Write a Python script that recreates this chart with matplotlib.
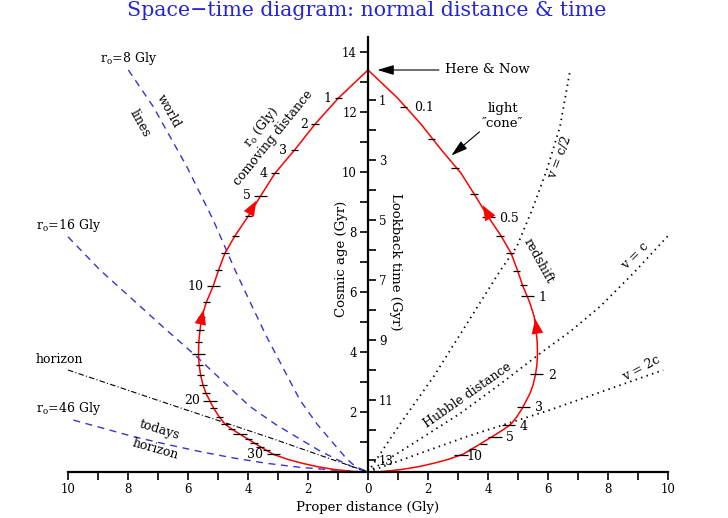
import matplotlib
matplotlib.use('Agg')
import matplotlib.pyplot as plt

plt.rcParams['font.family'] = ['DejaVu Serif']
plt.rcParams['mathtext.fontset'] = 'dejavuserif'

NOW = 13.4  # age of the universe at "here & now" (Gyr)

# past light cone: proper distance (Gly) vs cosmic age (Gyr), same on both sides
cone_dist = [0, 0.99, 1.77, 2.45, 3.1, 3.58, 3.99, 4.43, 4.77, 4.98, 5.16, 5.38,
             5.54, 5.6, 5.64, 5.65, 5.63, 5.58, 5.5, 5.4, 5.27, 5.14, 4.96, 4.77,
             4.54, 4.27, 3.99, 3.6, 3.16, 2.7, 2.27, 1.7, 1.16, 0.8, 0.45, 0]
cone_age = [13.4, 12.46, 11.59, 10.73, 9.96, 9.2, 8.53, 7.88, 7.29, 6.73, 6.2, 5.68,
            5.18, 4.73, 4.34, 3.93, 3.57, 3.23, 2.9, 2.62, 2.37, 2.12, 1.84, 1.6,
            1.43, 1.26, 1.09, 0.85, 0.59, 0.43, 0.31, 0.18, 0.09, 0.05, 0.015, 0]

# comoving distance marks (left branch)
como_vals = list(range(1, 31))
como_dist = [0.99, 1.77, 2.45, 3.1, 3.58, 3.99, 4.43, 4.77, 4.98, 5.16, 5.38, 5.54,
             5.6, 5.64, 5.65, 5.63, 5.58, 5.5, 5.4, 5.27, 5.14, 4.96, 4.77, 4.54,
             4.27, 3.99, 3.8, 3.6, 3.38, 3.16]
como_age = [12.46, 11.59, 10.73, 9.96, 9.2, 8.53, 7.88, 7.29, 6.73, 6.2, 5.68, 5.18,
            4.73, 4.34, 3.93, 3.57, 3.23, 2.9, 2.62, 2.37, 2.12, 1.84, 1.6, 1.43,
            1.26, 1.09, 0.97, 0.85, 0.72, 0.59]
como_long = [5, 10, 15, 20, 25, 30]
como_labelled = [1, 2, 3, 4, 5, 10, 20, 30]

# redshift marks (right branch)
z_vals = [0.1, 0.2, 0.3, 0.4, 0.5, 0.6, 0.7, 0.8, 0.9, 1, 2, 3, 4, 5, 6, 7, 10]
z_dist = [1.18, 2.12, 2.9, 3.53, 4.01, 4.4, 4.73, 4.96, 5.18, 5.31, 5.62, 5.18,
          4.68, 4.23, 3.84, 3.48, 3.1]
z_age = [12.18, 11.09, 10.12, 9.26, 8.51, 7.87, 7.29, 6.71, 6.23, 5.87, 3.27, 2.18,
         1.57, 1.18, 0.95, 0.77, 0.56]
z_long = [0.5, 1, 2, 3, 4, 5, 10]
z_labels = {0.1: '0.1', 0.5: '0.5', 1: '1', 2: '2', 3: '3', 4: '4', 5: '5', 10: '10'}

# world lines of comoving galaxies (left side, proper distance negative)
wl8_x = [-7.99, -7.16, -6.04, -5.16, -4.43, -3.9, -3.38, -2.9, -2.27, -1.7, -1.16,
         -0.72, -0.42, 0]
wl8_t = [13.4, 12.18, 10.18, 8.4, 6.73, 5.6, 4.51, 3.6, 2.4, 1.6, 0.96,
         0.45, 0.18, 0]
wl16_x = [-10, -8.93, -7.9, -6.85, -5.77, -4.6, -3.93, -3.1, -2.27, -1.6, -1.0,
          -0.45, 0]
wl16_t = [7.84, 6.73, 5.8, 4.85, 3.9, 2.8, 2.18, 1.6, 1.1, 0.7, 0.4, 0.14, 0]
wl46_x = [-9.82, -8.8, -7.82, -6.7, -5.6, -4.5, -3.38, -2.3, -1.2, -0.5, 0]
wl46_t = [1.73, 1.45, 1.18, 0.92, 0.68, 0.47, 0.29, 0.16, 0.07, 0.02, 0]

# particle horizon
hor_x = [-10, -6.71, -3.38, 0]
hor_t = [3.4, 2.29, 1.18, 0]

# recession speed lines (right side)
vc2_x = [0, 1.07, 2.2, 4.4, 4.96, 5.51, 5.96, 6.4, 6.73]
vc2_t = [0, 1.6, 3.2, 6.7, 7.51, 8.84, 10.07, 11.51, 13.35]
vc_x = [0, 1.5, 3.07, 4.5, 5.8, 6.7, 7.73, 8.84, 10]
vc_t = [0, 0.95, 1.95, 3.0, 4.0, 4.65, 5.51, 6.62, 7.87]
v2c_x = [0, 3.29, 6.07, 9.84]
v2c_t = [0, 1.18, 2.07, 3.4]

# red arrowheads on the light cone: (tail, tip)
cone_arrows = [((-3.86, 8.8), (-3.68, 9.12)), ((-5.56, 5.05), (-5.46, 5.5)),
               ((3.98, 8.62), (3.78, 8.97)), ((5.62, 4.8), (5.56, 5.2))]

fig = plt.figure(figsize=(7.28, 5.18), dpi=100)
ax = fig.add_axes([0, 0, 1, 1])
ax.set_xlim(-12.267, 12.0)
ax.set_ylim(-1.533, 15.733)

blue = '#3434d6'
ax.plot(wl8_x, wl8_t, color=blue, lw=1, ls=(0, (5, 4)))
ax.plot(wl16_x, wl16_t, color=blue, lw=1, ls=(0, (5, 4)))
ax.plot(wl46_x, wl46_t, color=blue, lw=1, ls=(0, (5, 4)))
ax.plot(hor_x, hor_t, color='black', lw=0.8, ls=(0, (5, 2, 1, 2)))
for xs, ts in [(vc2_x, vc2_t), (vc_x, vc_t), (v2c_x, v2c_t)]:
    ax.plot(xs, ts, color='black', lw=1.3, ls=(0, (0.8, 2.4)))

ax.plot([-d for d in cone_dist], cone_age, color='red', lw=1.1)
ax.plot(cone_dist, cone_age, color='red', lw=1.1)
for tail, tip in cone_arrows:
    ax.annotate('', xy=tip, xytext=tail,
                arrowprops=dict(arrowstyle='-|>,head_length=0.9,head_width=0.35',
                                color='red', lw=0, mutation_scale=12))

# marks along the cone
for v, d, t in zip(como_vals, como_dist, como_age):
    half = 0.22 if v in como_long else 0.12
    ax.hlines(t, -d - half, -d + half, color='black', lw=0.9)
    if v in como_labelled:
        ax.annotate(str(v), (-d, t), xytext=(-(half * 21.6 + 2.5), 0),
                    textcoords='offset points', ha='right', va='center', fontsize=9)
for v, d, t in zip(z_vals, z_dist, z_age):
    half = 0.22 if v in z_long else 0.12
    ax.hlines(t, d - half, d + half, color='black', lw=0.9)
    if v in z_labels:
        off = 4 if v == 10 else 8
        ax.annotate(z_labels[v], (d, t), xytext=(off, -1), textcoords='offset points',
                    ha='left', va='center', fontsize=9)

# axes as spines through the origin
for s in ['top', 'right']:
    ax.spines[s].set_visible(False)
ax.spines['left'].set_position(('data', 0))
ax.spines['bottom'].set_position(('data', 0))
ax.spines['left'].set_bounds(0, 14.5)
ax.spines['bottom'].set_bounds(-10, 10)
ax.spines['left'].set_linewidth(1.6)
ax.spines['bottom'].set_linewidth(1.6)

xt = list(range(-10, 11, 2))
ax.set_xticks(xt)
ax.set_xticklabels([str(abs(v)) for v in xt], fontsize=8.5)
ax.set_xticks(list(range(-9, 10, 2)), minor=True)
ax.set_yticks(list(range(2, 15, 2)))
ax.set_yticklabels([str(v) for v in range(2, 15, 2)], fontsize=8.5)
ax.set_yticks(list(range(1, 14, 2)), minor=True)
ax.tick_params(which='both', direction='out', length=6, width=1.2, pad=2)

ax2 = ax.twinx()
ax2.set_ylim(NOW + 1.533, NOW - 15.733)
for s in ax2.spines.values():
    s.set_visible(False)
ax2.spines['right'].set_position(('data', 0))
ax2.set_yticks(list(range(1, 14, 2)))
ax2.set_yticklabels([str(v) for v in range(1, 14, 2)], fontsize=8.5)
ax2.set_yticks(list(range(2, 13, 2)), minor=True)
ax2.tick_params(which='both', direction='out', length=6, width=1.2, pad=2)

# axis titles
ax.text(0, -1.17, 'Proper distance (Gly)', ha='center', va='center', fontsize=9.5)
ax.text(-0.9, 7.1, 'Cosmic age (Gyr)', rotation=90, ha='center', va='center', fontsize=9.5)
ax.text(0.9, 7.0, 'Lookback time (Gyr)', rotation=-90, ha='center', va='center', fontsize=9.5)

fig.text(0.504, 1 - 11 / 518, 'Space\u2212time diagram: normal distance & time',
         ha='center', va='center', fontsize=14.8, color='#2424d8')

# annotations
ax.annotate('Here & Now', xy=(0.22, 13.4), xytext=(2.55, 13.4), ha='left', va='center',
            fontsize=9.5,
            arrowprops=dict(arrowstyle='-|>,head_length=1.0,head_width=0.3',
                            color='black', lw=0.8, mutation_scale=10))
ax.text(4.49, 12.13, 'light', ha='center', va='center', fontsize=9.5)
ax.text(4.49, 11.63, '\u2033cone\u2033', ha='center', va='center', fontsize=9.5)
ax.annotate('', xy=(2.71, 10.49), xytext=(3.79, 11.4),
            arrowprops=dict(arrowstyle='-|>,head_length=1.0,head_width=0.3',
                            color='black', lw=0.8, mutation_scale=10))

ax.text(-7.99, 13.79, r'r$_\mathrm{o}$=8 Gly', ha='center', va='center', fontsize=9)
ax.text(-9.99, 8.2, r'r$_\mathrm{o}$=16 Gly', ha='center', va='center', fontsize=9)
ax.text(-9.99, 2.12, r'r$_\mathrm{o}$=46 Gly', ha='center', va='center', fontsize=9)
ax.text(-10.29, 3.76, 'horizon', ha='center', va='center', fontsize=9)
ax.text(-6.66, 12.01, 'world', rotation=-61, ha='center', va='center',
        rotation_mode='anchor', fontsize=9)
ax.text(-7.6, 11.62, 'lines', rotation=-61, ha='center', va='center',
        rotation_mode='anchor', fontsize=9)
ax.text(-3.54, 11.51, r'r$_\mathrm{o}$ (Gly)', rotation=51, ha='center', va='center',
        rotation_mode='anchor', fontsize=9)
ax.text(-3.16, 11.12, 'comoving distance', rotation=51, ha='center', va='center',
        rotation_mode='anchor', fontsize=9)
ax.text(-6.96, 1.42, 'todays', rotation=-17, ha='center', va='center',
        rotation_mode='anchor', fontsize=9)
ax.text(-7.08, 0.77, 'horizon', rotation=-16, ha='center', va='center',
        rotation_mode='anchor', fontsize=9)
ax.text(6.4, 10.49, 'v = c/2', rotation=69, ha='center', va='center',
        rotation_mode='anchor', fontsize=9)
ax.text(5.7, 7.04, 'redshift', rotation=-61, ha='center', va='center',
        rotation_mode='anchor', fontsize=9)
ax.text(8.9, 7.2, 'v = c', rotation=45, ha='center', va='center',
        rotation_mode='anchor', fontsize=9)
ax.text(3.31, 2.57, 'Hubble distance', rotation=35, ha='center', va='center',
        rotation_mode='anchor', fontsize=9)
ax.text(9.12, 3.46, 'v = 2c', rotation=28, ha='center', va='center',
        rotation_mode='anchor', fontsize=9)

fig.savefig('out.png', dpi=100)
